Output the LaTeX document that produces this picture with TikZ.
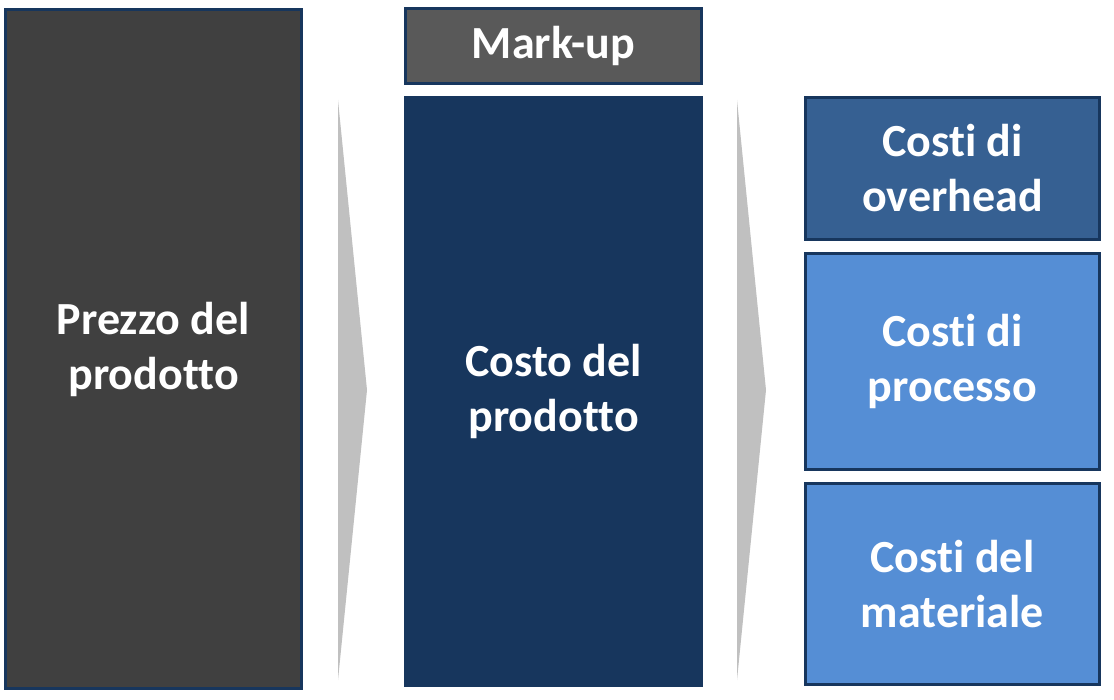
\documentclass[tikz,border=0pt]{standalone}
\usepackage{fontspec}
\setmainfont{Carlito}[Ligatures=NoCommon]
\definecolor{navy}{HTML}{17365D}
\definecolor{darkgrey}{HTML}{404040}
\definecolor{midgrey}{HTML}{595959}
\definecolor{steel}{HTML}{366092}
\definecolor{lightblue}{HTML}{558ED5}
\definecolor{arrowgrey}{HTML}{C0C0C0}
\begin{document}
\begin{tikzpicture}[x=1pt,y=-1pt,
  box/.style={draw=navy, line width=3pt, rectangle, inner sep=0pt, outer sep=0pt,
    text=white, font=\fontsize{46}{55}\selectfont\bfseries, align=center},
  chevron/.style={fill=arrowgrey, draw=none}]
\useasboundingbox (0,0) rectangle (1114,700);
\node[box, fill=darkgrey, minimum width=296pt, minimum height=678pt] (prezzo) at (153.5,349) {Prezzo del\\prodotto};
\node[box, fill=midgrey, minimum width=296pt, minimum height=75pt] (markup) at (553.5,46) {\raisebox{-3pt}{Mark-up}};
\node[box, fill=navy, minimum width=296pt, minimum height=588pt] (costo) at (553.5,391.5) {Costo del\\prodotto};
\node[box, fill=steel, minimum width=294pt, minimum height=142pt] (overhead) at (952.5,168.5) {Costi di\\overhead};
\node[box, fill=lightblue, minimum width=294pt, minimum height=216pt] (processo) at (952.5,361.5) {Costi di\\processo};
\node[box, fill=lightblue, minimum width=294pt, minimum height=201pt] (materiale) at (952.5,584) {Costi del\\materiale};
\coordinate (a1top) at (338,100);
\coordinate (a1tip) at (367,390);
\coordinate (a1bot) at (338,680);
\coordinate (a2top) at (737,100);
\coordinate (a2tip) at (766,390);
\coordinate (a2bot) at (737,680);
\fill[chevron] (a1top) -- (a1tip) -- (a1bot) -- cycle;
\fill[chevron] (a2top) -- (a2tip) -- (a2bot) -- cycle;
\end{tikzpicture}
\end{document}
